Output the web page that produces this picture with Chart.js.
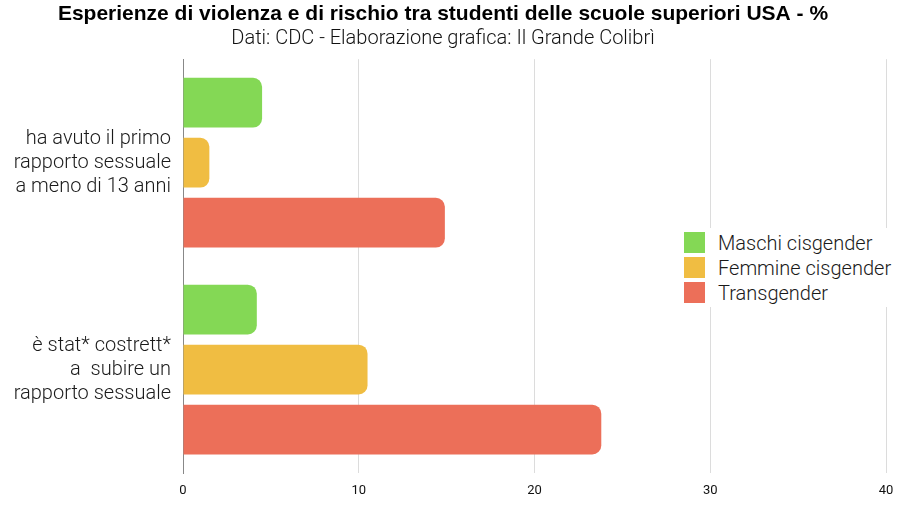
<!DOCTYPE html>
<html>
<head>
<meta charset="utf-8">
<script src="https://cdn.jsdelivr.net/npm/chart.js@4"></script>
<style>
  html, body { margin: 0; padding: 0; background: #fff; }
  #wrap { position: relative; width: 900px; height: 506px; }
  #legend {
    position: absolute; left: 678px; top: 228px;
    background: #fff; padding: 2px 6px;
    font-family: Roboto, "Liberation Sans", sans-serif; font-weight: 300;
    font-size: 20px; color: #1a1a1a;
  }
  #legend div { display: flex; align-items: center; height: 25px; }
  #legend span.box { display: inline-block; width: 21px; height: 21px; margin-right: 13px; }
</style>
</head>
<body>
<div id="wrap">
  <canvas id="chart" width="900" height="506"></canvas>
  <div id="legend"></div>
</div>
<script>
const categories = [
    ['ha avuto il primo', 'rapporto sessuale', 'a meno di 13 anni'],
    ['è stat* costrett*', 'a  subire un', 'rapporto sessuale']
];
const seriesNames = ['Maschi cisgender', 'Femmine cisgender', 'Transgender'];
const maschi = [4.5, 4.2];
const femmine = [1.5, 10.5];
const transgender = [14.9, 23.8];
const xTicks = [0, 10, 20, 30, 40];

const colors = ['#84D855', '#F0BD42', '#EC6F59'];
const lightFont = "Roboto, 'Liberation Sans', sans-serif";

const data = {
    labels: categories,
    datasets: [maschi, femmine, transgender].map(function(values, i) {
        return {
            label: seriesNames[i],
            data: values,
            backgroundColor: colors[i],
            borderWidth: 0,
            borderRadius: 9,
            borderSkipped: 'start',
            barPercentage: 0.83,
            categoryPercentage: 0.87
        };
    })
};

const chart = new Chart(document.getElementById('chart'), {
    type: 'bar',
    data: data,
    options: {
        indexAxis: 'y',
        responsive: false,
        animation: false,
        layout: {
            padding: { left: 0, right: 14, top: 0, bottom: 7 }
        },
        plugins: {
            legend: { display: false },
            tooltip: { enabled: false },
            title: {
                display: true,
                text: 'Esperienze di violenza e di rischio tra studenti delle scuole superiori USA - %',
                color: '#000',
                font: { size: 21, weight: 'bold', family: "'Liberation Sans', Arial, sans-serif" },
                padding: { top: 2, bottom: 0 }
            },
            subtitle: {
                display: true,
                text: 'Dati: CDC - Elaborazione grafica: Il Grande Colibrì',
                color: '#111',
                font: { size: 20, weight: 300, family: lightFont },
                padding: { top: 0, bottom: 8 }
            }
        },
        scales: {
            x: {
                min: 0,
                max: 40,
                afterBuildTicks: function(scale) {
                    scale.ticks = xTicks.map(function(v) { return { value: v }; });
                },
                afterFit: function(scale) {
                    scale.height = 26;
                    scale.paddingLeft = 0;
                    scale.paddingRight = 0;
                },
                ticks: {
                    color: '#111',
                    padding: 10,
                    font: { size: 13, family: lightFont }
                },
                grid: {
                    color: function(ctx) { return ctx.index === 0 ? '#888' : '#dcdcdc'; },
                    drawTicks: false
                },
                border: { display: false }
            },
            y: {
                afterFit: function(scale) {
                    scale.width = 183;
                    scale.paddingTop = 0;
                    scale.paddingBottom = 0;
                },
                ticks: {
                    color: '#1a1a1a',
                    padding: 12,
                    font: { size: 20, weight: 300, family: lightFont, lineHeight: 1.2 }
                },
                grid: { display: false, drawTicks: false },
                border: { display: true, color: '#888' }
            }
        }
    }
});

// legend box inside the plot area, built from the datasets
const legendEl = document.getElementById('legend');
chart.data.datasets.forEach(function(ds) {
    const row = document.createElement('div');
    const box = document.createElement('span');
    box.className = 'box';
    box.style.background = ds.backgroundColor;
    row.appendChild(box);
    row.appendChild(document.createTextNode(ds.label));
    legendEl.appendChild(row);
});
</script>
</body>
</html>
